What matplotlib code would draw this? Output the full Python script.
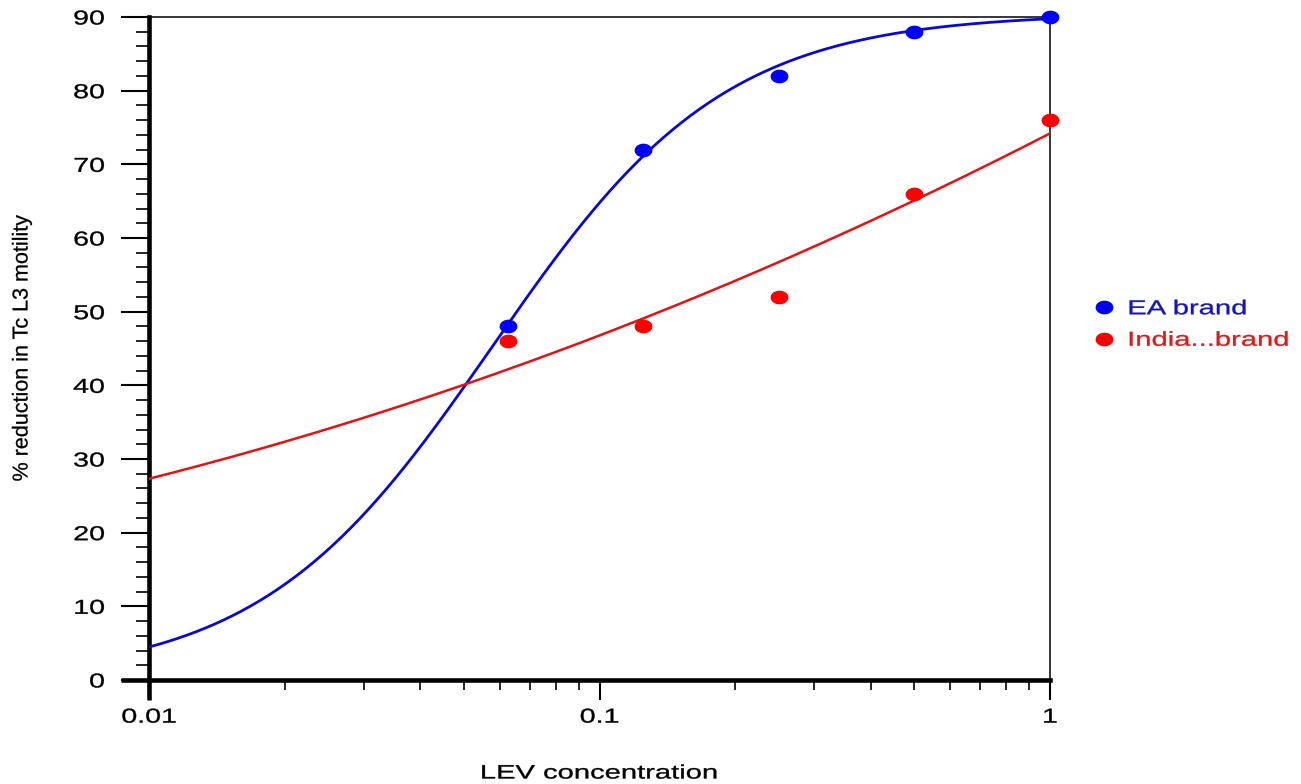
import numpy as np
import matplotlib
matplotlib.use("Agg")
import matplotlib.pyplot as plt
from matplotlib.patheffects import AbstractPathEffect
from matplotlib.transforms import Affine2D
from matplotlib.path import Path
from matplotlib.ticker import FixedLocator, FixedFormatter

# ---- data -------------------------------------------------------------
concentrations = [0.0625, 0.125, 0.25, 0.5, 1.0]
ea_brand = [48, 72, 82, 88, 90]
india_brand = [46, 48, 52, 66, 76]
series_labels = ["EA brand", "India...brand"]

x_tick_values = [0.01, 0.1, 1]
x_tick_labels = ["0.01", "0.1", "1"]
y_tick_values = list(range(0, 91, 10))

# fitted curves: four-parameter logistic (bottom, top, EC50, Hill slope)
ea_fit = [0.0, 90.5, 0.0578, 1.685]
# second-order polynomial in log10(concentration)
india_fit = [3.99, 31.42, 74.2]

# ---- style ------------------------------------------------------------
plt.rcParams["font.family"] = ["Liberation Sans", "DejaVu Sans"]
BLUE_DOT, BLUE_LINE, BLUE_TEXT = "#0000ff", "#0808d8", "#1414c0"
RED_DOT, RED_LINE, RED_TEXT = "#ff0000", "#e81010", "#e01818"
STRETCH = 1.42


class Widen(AbstractPathEffect):
    """Draw text glyphs stretched horizontally about an anchor of the ink box,
    with a thin outline in the glyph colour for a little extra weight."""

    def __init__(self, factor, anchor=0.5, weight=0.25):
        super().__init__()
        self.factor = factor
        self.anchor = anchor
        self.weight = weight

    def draw_path(self, renderer, gc, tpath, affine, rgbFace=None):
        ext = tpath.get_extents()
        x0 = ext.x0 + self.anchor * (ext.x1 - ext.x0)
        pre = Affine2D().translate(-x0, 0).scale(self.factor, 1).translate(x0, 0)
        gc0 = renderer.new_gc()
        gc0.copy_properties(gc)
        if rgbFace is not None and self.weight > 0:
            gc0.set_foreground(rgbFace)
            gc0.set_linewidth(self.weight)
        renderer.draw_path(gc0, tpath, pre + affine, rgbFace)
        gc0.restore()


# elliptical dot marker
theta = np.linspace(0, 2 * np.pi, 73)
dot = Path(np.column_stack([1.3 * np.cos(theta), np.sin(theta)]), closed=True)

W, H = 1301, 784
fig = plt.figure(figsize=(W / 100, H / 100), dpi=100)
ax_l, ax_r, ax_t, ax_b = 149, 1050, 17, 680
ax = fig.add_axes([ax_l / W, 1 - ax_b / H, (ax_r - ax_l) / W, (ax_b - ax_t) / H])
ax_w, ax_h = ax_r - ax_l, ax_b - ax_t

ax.set_xscale("log")
ax.set_xlim(0.01, 1)
ax.set_ylim(0, 90)

# fitted curves
x_curve = np.logspace(-2, 0, 400)
b, t, ec50, hill = ea_fit
ea_curve = b + (t - b) / (1 + (ec50 / x_curve) ** hill)
india_curve = np.polyval(india_fit, np.log10(x_curve))
ax.plot(x_curve, ea_curve, color=BLUE_LINE, lw=2.0, zorder=3)
ax.plot(x_curve, india_curve, color=RED_LINE, lw=1.8, zorder=3)

# observed points
ax.plot(concentrations, ea_brand, linestyle="none", marker=dot, markersize=12.8,
        color=BLUE_DOT, markeredgewidth=0, clip_on=False, zorder=5,
        label=series_labels[0])
ax.plot(concentrations, india_brand, linestyle="none", marker=dot, markersize=12.8,
        color=RED_DOT, markeredgewidth=0, clip_on=False, zorder=5,
        label=series_labels[1])

# axes frame
for side in ("left", "bottom"):
    ax.spines[side].set_linewidth(3.3)
for side in ("top", "right"):
    ax.spines[side].set_linewidth(1.1)
ax.plot([-28 / ax_w, 0], [0, 0], transform=ax.transAxes, clip_on=False,
        color="k", lw=3.3, solid_capstyle="butt", zorder=2.6)
ax.plot([0, 0], [-20 / ax_h, 0], transform=ax.transAxes, clip_on=False,
        color="k", lw=3.3, solid_capstyle="butt", zorder=2.6)

# ticks
ax.xaxis.set_major_locator(FixedLocator(x_tick_values))
ax.xaxis.set_major_formatter(FixedFormatter(x_tick_labels))
minor_x = [k * 10.0 ** e for e in (-2, -1) for k in range(2, 10)]
ax.xaxis.set_minor_locator(FixedLocator(minor_x))
ax.xaxis.set_minor_formatter(FixedFormatter([""] * len(minor_x)))
ax.yaxis.set_major_locator(FixedLocator(y_tick_values))
ax.yaxis.set_minor_locator(FixedLocator(list(range(0, 91, 2))))

ax.tick_params(axis="y", which="major", direction="out", length=20, width=1.5,
               pad=12, labelsize=14.5)
ax.tick_params(axis="y", which="minor", direction="out", length=9.4, width=1.2)
ax.tick_params(axis="x", which="major", direction="out", length=14.4, width=1.5,
               pad=5.5, labelsize=14.5)
ax.tick_params(axis="x", which="minor", direction="out", length=7.2, width=1.2)

for lab in ax.get_yticklabels():
    lab.set_path_effects([Widen(STRETCH, anchor=1.0)])
for lab in ax.get_xticklabels():
    lab.set_path_effects([Widen(STRETCH, anchor=0.5)])

# axis titles
ax.set_xlabel("LEV concentration", fontsize=14, va="center")
ax.xaxis.set_label_coords(0.5, (ax_b - 774) / ax_h)
ax.xaxis.label.set_path_effects([Widen(STRETCH + 0.08, anchor=0.5)])

ax.set_ylabel("% reduction in Tc L3 motility", fontsize=15.5, va="center")
ax.yaxis.set_label_coords((22 - ax_l) / ax_w, 0.5)
ax.yaxis.label.set_path_effects([Widen(1.0, anchor=0.5, weight=0.2)])

# legend
fs = 14.5
fs_px = fs * 100 / 72
leg = ax.legend(loc="center left",
                bbox_to_anchor=((1104 - 0.5 * fs_px) / W, 1 - 324.5 / H),
                bbox_transform=fig.transFigure, frameon=False, fontsize=fs,
                handlelength=1.0, handletextpad=(24 - 0.5 * fs_px) / fs_px,
                labelspacing=0.62, borderpad=0, borderaxespad=0,
                markerscale=1.0)
for txt, col in zip(leg.get_texts(), (BLUE_TEXT, RED_TEXT)):
    txt.set_color(col)
    txt.set_path_effects([Widen(STRETCH + 0.03, anchor=0.0)])

fig.savefig("out.png", dpi=100)
